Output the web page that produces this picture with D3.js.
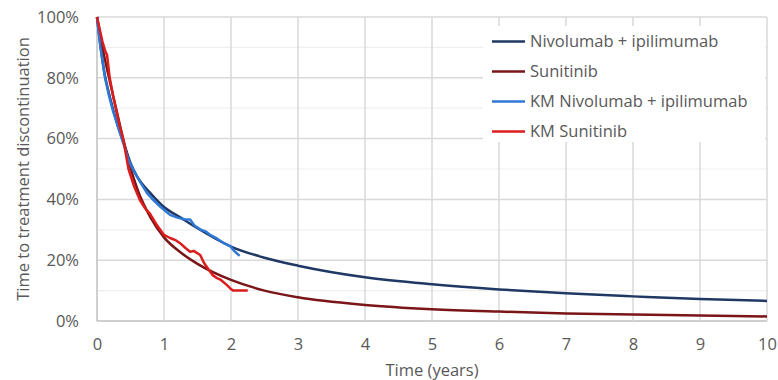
<!DOCTYPE html>
<html>
<head>
<meta charset="utf-8">
<script src="https://cdn.jsdelivr.net/npm/d3@7"></script>
<style>
  body { margin: 0; background: #fff; }
  text { font-family: "Open Sans", "Noto Sans", sans-serif; fill: #595959; }
</style>
</head>
<body>
<svg width="778" height="380"></svg>
<script>
const svg = d3.select("svg"),
    width = +svg.attr("width"),
    height = +svg.attr("height");

// fitted curves
const fitTimes = [0, 0.1, 0.2, 0.3, 0.4, 0.5, 0.6, 0.8, 1, 1.25, 1.5, 2, 2.5, 3, 4, 5, 6, 7, 8, 9, 10];
const nivoFit  = [100, 83, 73, 65, 58.5, 52, 47.5, 42, 37.5, 34, 30.5, 24.5, 20.8, 18.2, 14.4, 12.1, 10.4, 9.1, 8.1, 7.2, 6.6];
const suniFit  = [100, 88, 78, 68.5, 59, 50.5, 43.5, 34, 27.5, 22.5, 18.8, 13.5, 10, 7.8, 5.3, 3.9, 3.1, 2.5, 2.1, 1.8, 1.5];

// Kaplan-Meier traces
const kmNivoTimes = [0, 0.045, 0.12, 0.18, 0.24, 0.34, 0.4, 0.47, 0.54, 0.65, 0.75, 0.84, 0.95, 1.09, 1.2, 1.3, 1.39, 1.45, 1.55, 1.62, 1.69, 1.8, 1.9, 1.99, 2.05, 2.13];
const kmNivo      = [100, 91, 80, 74, 69, 62, 58, 53, 49.7, 45.5, 42, 39.8, 37.5, 34.9, 34, 33.5, 33.4, 31.5, 30, 29.5, 28.3, 27, 25.5, 24.6, 23, 21.4];
const kmSuniTimes = [0, 0.04, 0.08, 0.12, 0.15, 0.19, 0.24, 0.29, 0.34, 0.39, 0.43, 0.47, 0.55, 0.64, 0.72, 0.79, 0.88, 1.0, 1.09, 1.18, 1.24, 1.32, 1.39, 1.45, 1.54, 1.6, 1.73, 1.8, 1.85, 1.94, 2.0, 2.03, 2.25];
const kmSuni      = [100, 96, 92, 89, 87.5, 80, 74, 69, 64, 60, 55, 50, 44.5, 39.8, 37, 35.3, 32, 28.3, 27.3, 26.5, 25.6, 24, 22.8, 23, 21.7, 19, 15, 14, 13.5, 11.8, 10.5, 10, 10];

const xTicks = d3.range(0, 11);
const yTicks = [0, 20, 40, 60, 80, 100];
const yMinor = [10, 30, 50, 70, 90];

const series = [
  {name: "Nivolumab + ipilimumab", t: fitTimes, v: nivoFit, color: "#1f3864", smooth: true},
  {name: "Sunitinib", t: fitTimes, v: suniFit, color: "#7a1518", smooth: true},
  {name: "KM Nivolumab + ipilimumab", t: kmNivoTimes, v: kmNivo, color: "#2f78d6", smooth: false},
  {name: "KM Sunitinib", t: kmSuniTimes, v: kmSuni, color: "#dc1c1c", smooth: false}
];

const fontSize = 16.5;
const margin = {top: 17, right: 11, bottom: 59, left: 97};

const x = d3.scaleLinear().domain([0, 10]).range([margin.left, width - margin.right]);
const y = d3.scaleLinear().domain([0, 100]).range([height - margin.bottom, margin.top]);

// gridlines
svg.append("g")
  .selectAll("line")
  .data(yMinor)
  .enter().append("line")
  .attr("x1", x(0)).attr("x2", x(10))
  .attr("y1", d => y(d)).attr("y2", d => y(d))
  .style("stroke", "#efefef").style("stroke-width", 1.2);

svg.append("g")
  .selectAll("line")
  .data(yTicks)
  .enter().append("line")
  .attr("x1", x(0)).attr("x2", x(10))
  .attr("y1", d => y(d)).attr("y2", d => y(d))
  .style("stroke", d => d == 0 ? "#bfbfbf" : "#d9d9d9").style("stroke-width", 1.5);

svg.append("g")
  .selectAll("line")
  .data(xTicks)
  .enter().append("line")
  .attr("x1", d => x(d)).attr("x2", d => x(d))
  .attr("y1", y(0)).attr("y2", y(100))
  .style("stroke", d => d == 0 ? "#bfbfbf" : "#d9d9d9").style("stroke-width", 1.5);

// axes, only for the labels
const xAxis = svg.append("g")
  .attr("transform", `translate(0,${y(0)})`)
  .call(d3.axisBottom(x).tickValues(xTicks).tickSize(0).tickPadding(17));
const yAxis = svg.append("g")
  .attr("transform", `translate(${x(0)},0)`)
  .call(d3.axisLeft(y).tickValues(yTicks).tickSize(0).tickPadding(18).tickFormat(d => d + "%"));
[xAxis, yAxis].forEach(a => {
  a.select(".domain").remove();
  a.selectAll("text").attr("font-size", fontSize).attr("font-family", null).style("fill", "#595959");
});

svg.append("text")
  .attr("x", (x(0) + x(10)) / 2)
  .attr("y", 376)
  .attr("text-anchor", "middle")
  .attr("font-size", fontSize)
  .style("fill", "#595959")
  .text("Time (years)");

svg.append("text")
  .attr("transform", `translate(29,${(y(0) + y(100)) / 2}) rotate(-90)`)
  .attr("text-anchor", "middle")
  .attr("font-size", fontSize)
  .style("fill", "#595959")
  .text("Time to treatment discontinuation");

// curves
series.forEach(s => {
  const line = d3.line()
    .x((d, i) => x(s.t[i]))
    .y(d => y(d))
    .curve(s.smooth ? d3.curveMonotoneX : d3.curveLinear);
  svg.append("path")
    .attr("d", line(s.v))
    .style("fill", "none")
    .style("stroke", s.color)
    .style("stroke-width", 2.5)
    .style("stroke-linejoin", "round");
});

// legend
const legend = svg.append("g");
legend.append("rect")
  .attr("x", 483).attr("y", 26)
  .attr("width", 282).attr("height", 116)
  .style("fill", "#fff");
const items = legend.selectAll("g.item")
  .data(series)
  .enter().append("g")
  .attr("class", "item")
  .attr("transform", (d, i) => `translate(492,${41.5 + i * 30})`);
items.append("line")
  .attr("x1", 0).attr("x2", 33)
  .style("stroke", d => d.color)
  .style("stroke-width", 2.5);
items.append("text")
  .attr("x", 38).attr("y", 5.5)
  .attr("font-size", fontSize)
  .style("fill", "#595959")
  .text(d => d.name);
</script>
</body>
</html>
